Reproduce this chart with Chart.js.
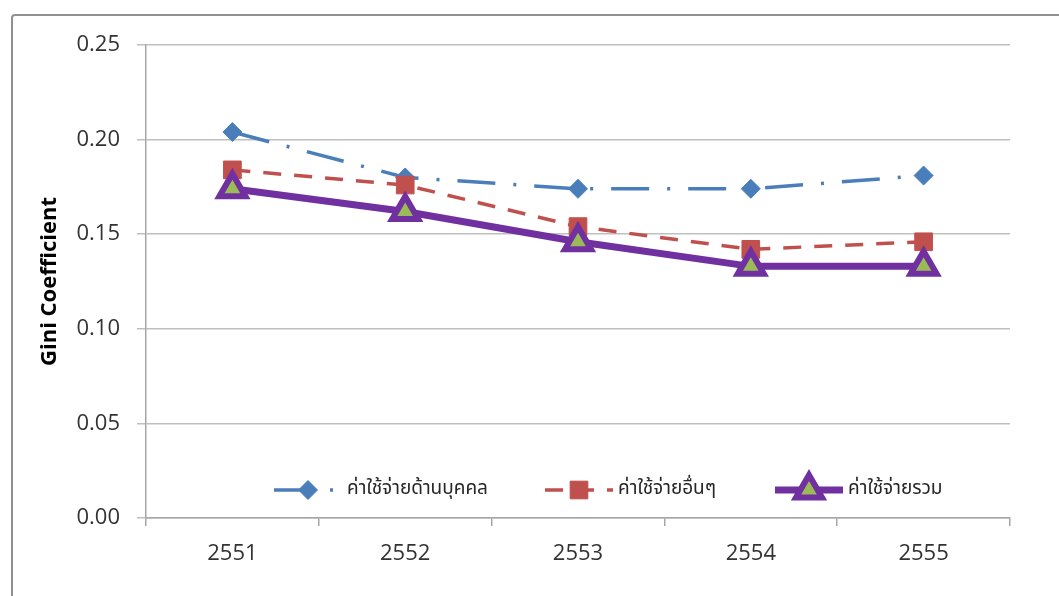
<!DOCTYPE html>
<html>
<head>
<meta charset="utf-8">
<script src="https://cdn.jsdelivr.net/npm/chart.js@4.4.1/dist/chart.umd.min.js"></script>
<style>
  html, body { margin: 0; padding: 0; background: #fff; overflow: hidden; }
  #wrap { position: relative; width: 1059px; height: 596px; }
  #frame { position: absolute; left: 11px; top: 14px; width: 1100px; height: 600px;
           border: 2px solid #909090; border-radius: 4px; box-sizing: border-box; }
  canvas { position: absolute; left: 0; top: 0; }
</style>
</head>
<body>
<div id="wrap">
  <div id="frame"></div>
  <canvas id="c" width="1059" height="596"></canvas>
</div>
<script>
// Gini coefficient of expenditure by year (Thai Buddhist calendar)
const years = ['2551', '2552', '2553', '2554', '2555'];
const personnelCost = [0.204, 0.180, 0.174, 0.174, 0.181];
const otherCost = [0.184, 0.176, 0.154, 0.142, 0.146];
const totalCost = [0.174, 0.162, 0.146, 0.133, 0.133];
const seriesNames = ['ค่าใช้จ่ายด้านบุคคล', 'ค่าใช้จ่ายอื่นๆ', 'ค่าใช้จ่ายรวม'];
const yTickValues = [0, 0.05, 0.10, 0.15, 0.20, 0.25];

const tickFont = { family: '"Open Sans", "DejaVu Sans", sans-serif', size: 22 };
const thaiFamily = '"Noto Sans Thai", "Noto Sans", "DejaVu Sans", sans-serif';

// Legend drawn inside the plot area: line sample with its marker, then the label
const inlineLegend = {
  id: 'inlineLegend',
  afterDatasetsDraw(chart) {
    const { ctx, chartArea } = chart;
    const starts = [128, 399, 629];
    const sampleW = 68;
    const y = chartArea.bottom - 28;
    const drawPoint = Chart.helpers && Chart.helpers.drawPoint;
    chart.data.datasets.forEach((ds, i) => {
      const x0 = chartArea.left + starts[i];
      ctx.save();
      ctx.strokeStyle = ds.borderColor;
      ctx.lineWidth = ds.borderWidth;
      ctx.setLineDash(ds.borderDash || []);
      ctx.lineCap = 'butt';
      ctx.beginPath();
      ctx.moveTo(x0, y);
      ctx.lineTo(x0 + sampleW, y);
      ctx.stroke();
      ctx.setLineDash([]);
      ctx.fillStyle = ds.pointBackgroundColor;
      ctx.strokeStyle = ds.pointBorderColor;
      ctx.lineWidth = ds.pointBorderWidth;
      if (drawPoint) {
        drawPoint(ctx, { pointStyle: ds.pointStyle, radius: ds.pointRadius, borderWidth: ds.pointBorderWidth, rotation: 0 }, x0 + sampleW / 2, y);
      }
      ctx.fillStyle = '#262626';
      ctx.font = '19px ' + thaiFamily;
      ctx.textBaseline = 'middle';
      ctx.textAlign = 'left';
      ctx.fillText(ds.label, x0 + 73, y);
      ctx.restore();
    });
  }
};

new Chart(document.getElementById('c'), {
  type: 'line',
  data: {
    labels: years,
    datasets: [
      {
        label: seriesNames[0],
        data: personnelCost,
        borderColor: '#4A7EBB',
        borderWidth: 3.5,
        borderDash: [38, 18, 3, 18],
        pointStyle: 'rectRot',
        pointRadius: 9.5,
        pointBackgroundColor: '#4A7EBB',
        pointBorderColor: '#4A7EBB',
        pointBorderWidth: 1,
        tension: 0,
        order: 2
      },
      {
        label: seriesNames[1],
        data: otherCost,
        borderColor: '#C0504D',
        borderWidth: 3.5,
        borderDash: [18, 13],
        pointStyle: 'rect',
        pointRadius: 12.5,
        pointBackgroundColor: '#C0504D',
        pointBorderColor: '#C0504D',
        pointBorderWidth: 1,
        tension: 0,
        order: 1
      },
      {
        label: seriesNames[2],
        data: totalCost,
        borderColor: '#7030A0',
        borderWidth: 7,
        pointStyle: 'triangle',
        pointRadius: 15,
        pointBackgroundColor: '#9BBB59',
        pointBorderColor: '#7030A0',
        pointBorderWidth: 6,
        tension: 0,
        order: 0
      }
    ]
  },
  options: {
    responsive: false,
    animation: false,
    events: [],
    layout: { padding: { left: 37, right: 49, top: 45, bottom: 0 } },
    plugins: { legend: { display: false }, tooltip: { enabled: false } },
    scales: {
      x: {
        offset: true,
        grid: { offset: true, drawOnChartArea: false, color: '#a6a6a6', lineWidth: 1.5, tickLength: 8 },
        border: { color: '#a6a6a6', width: 1.5 },
        ticks: { font: tickFont, color: '#333333', padding: 15, maxRotation: 0 },
        afterFit(scale) { scale.height = 78; }
      },
      y: {
        min: 0,
        max: 0.25,
        afterBuildTicks(scale) { scale.ticks = yTickValues.map(v => ({ value: v })); },
        ticks: { font: tickFont, color: '#333333', padding: 17, callback: v => Number(v).toFixed(2) },
        grid: { color: '#bfbfbf', lineWidth: 1.5, tickLength: 9 },
        border: { color: '#a6a6a6', width: 1.5 },
        title: {
          display: true,
          text: 'Gini Coefficient',
          color: '#000',
          padding: { top: 0, bottom: 4 },
          font: { family: '"Open Sans", "DejaVu Sans", sans-serif', size: 22, weight: 'bold' }
        },
        afterFit(scale) { scale.width = 109; }
      }
    }
  },
  plugins: [inlineLegend]
});
</script>
</body>
</html>
